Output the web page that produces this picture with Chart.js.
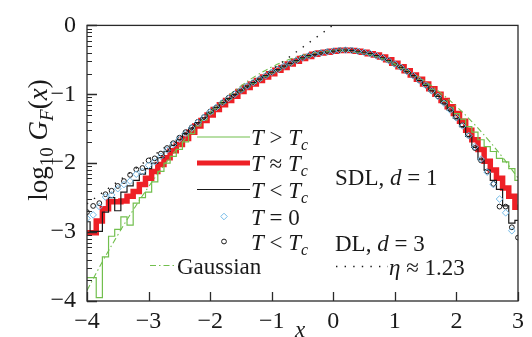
<!DOCTYPE html>
<html>
<head>
<meta charset="utf-8">
<script src="https://cdn.jsdelivr.net/npm/chart.js@4.4.1/dist/chart.umd.min.js"></script>
<style>
  html, body { margin: 0; padding: 0; background: #fff; }
  #wrap { width: 532px; height: 337px; }
</style>
</head>
<body>
<div id="wrap"><canvas id="c" width="532" height="337"></canvas></div>
<script>
// Bin centres along x
const binX = [-4.0,-3.9,-3.8,-3.7,-3.6,-3.5,-3.4,-3.3,-3.2,-3.1,
              -3.0,-2.9,-2.8,-2.7,-2.6,-2.5,-2.4,-2.3,-2.2,-2.1,
              -2.0,-1.9,-1.8,-1.7,-1.6,-1.5,-1.4,-1.3,-1.2,-1.1,
              -1.0,-0.9,-0.8,-0.7,-0.6,-0.5,-0.4,-0.3,-0.2,-0.1,
               0.0, 0.1, 0.2, 0.3, 0.4, 0.5, 0.6, 0.7, 0.8, 0.9,
               1.0, 1.1, 1.2, 1.3, 1.4, 1.5, 1.6, 1.7, 1.8, 1.9,
               2.0, 2.1, 2.2, 2.3, 2.4, 2.5, 2.6, 2.7, 2.8, 2.9,
               3.0];

// SDL, d = 1 : T > Tc
const sdlAbove = [-3.66,-3.66,-3.95,-3.36,-3.06,-2.96,-2.78,-2.90,-2.58,-2.50,
                  -2.42,-2.27,-2.12,-2.00,-1.90,-1.80,-1.69,-1.57,-1.46,-1.37,
                  -1.28,-1.20,-1.13,-1.07,-1.00,-0.95,-0.89,-0.84,-0.79,-0.74,
                  -0.69,-0.65,-0.60,-0.56,-0.52,-0.48,-0.45,-0.42,-0.40,-0.385,
                  -0.37,-0.36,-0.36,-0.365,-0.38,-0.395,-0.42,-0.45,-0.48,-0.52,
                  -0.57,-0.62,-0.67,-0.73,-0.79,-0.86,-0.93,-1.01,-1.10,-1.19,
                  -1.28,-1.36,-1.47,-1.55,-1.66,-1.76,-1.83,-1.93,-1.98,-2.08,
                  -2.25];
// SDL, d = 1 : T ~ Tc
const sdlNear = [-3.01,-3.01,-2.84,-2.66,-2.56,-2.56,-2.55,-2.48,-2.41,-2.31,
                 -2.22,-2.12,-2.02,-1.92,-1.82,-1.73,-1.64,-1.55,-1.46,-1.38,
                 -1.30,-1.22,-1.15,-1.09,-1.03,-0.96,-0.90,-0.85,-0.80,-0.75,
                 -0.70,-0.65,-0.61,-0.56,-0.52,-0.48,-0.45,-0.42,-0.40,-0.39,
                 -0.375,-0.365,-0.36,-0.365,-0.375,-0.39,-0.41,-0.43,-0.46,-0.50,
                 -0.55,-0.60,-0.66,-0.72,-0.78,-0.85,-0.92,-1.00,-1.09,-1.18,
                 -1.28,-1.39,-1.52,-1.66,-1.80,-1.97,-2.10,-2.22,-2.36,-2.48,
                 -2.64];
// SDL, d = 1 : T < Tc
const sdlBelow = [-2.85,-2.99,-2.99,-2.71,-2.50,-2.69,-2.42,-2.33,-2.25,-2.16,
                  -2.08,-2.00,-1.92,-1.83,-1.74,-1.66,-1.57,-1.49,-1.41,-1.34,
                  -1.26,-1.19,-1.12,-1.06,-1.00,-0.94,-0.88,-0.83,-0.78,-0.73,
                  -0.68,-0.64,-0.59,-0.55,-0.51,-0.47,-0.44,-0.42,-0.40,-0.385,
                  -0.372,-0.362,-0.358,-0.362,-0.375,-0.39,-0.41,-0.44,-0.47,-0.51,
                  -0.56,-0.61,-0.67,-0.73,-0.80,-0.87,-0.95,-1.03,-1.13,-1.23,
                  -1.35,-1.47,-1.61,-1.77,-1.95,-2.10,-2.25,-2.38,-2.62,-2.87,
                  -2.83];
// SDL, d = 1 : T = 0
const sdlZero = [-2.80,-2.75,-2.63,-2.49,-2.46,-2.37,-2.31,-2.26,-2.16,-2.12,
                 -2.03,-1.98,-1.90,-1.81,-1.73,-1.65,-1.57,-1.49,-1.41,-1.34,
                 -1.26,-1.19,-1.12,-1.06,-1.00,-0.94,-0.88,-0.83,-0.78,-0.73,
                 -0.68,-0.64,-0.59,-0.55,-0.51,-0.47,-0.44,-0.42,-0.40,-0.385,
                 -0.372,-0.362,-0.358,-0.362,-0.375,-0.39,-0.41,-0.44,-0.47,-0.51,
                 -0.56,-0.61,-0.67,-0.73,-0.80,-0.87,-0.95,-1.03,-1.13,-1.23,
                 -1.34,-1.46,-1.60,-1.76,-1.94,-2.13,-2.31,-2.52,-2.72,-2.98,
                 null];
// DL, d = 3 : T < Tc
const dlBelow = [-2.71,-2.62,-2.58,-2.45,-2.40,-2.33,-2.26,-2.17,-2.09,-2.07,
                 -1.96,-1.93,-1.86,-1.78,-1.71,-1.63,-1.55,-1.48,-1.40,-1.33,
                 -1.25,-1.19,-1.12,-1.05,-0.99,-0.94,-0.88,-0.83,-0.78,-0.73,
                 -0.68,-0.63,-0.59,-0.55,-0.51,-0.47,-0.44,-0.41,-0.395,-0.38,
                 -0.37,-0.36,-0.355,-0.36,-0.372,-0.39,-0.41,-0.44,-0.47,-0.51,
                 -0.56,-0.61,-0.67,-0.73,-0.80,-0.87,-0.95,-1.03,-1.12,-1.22,
                 -1.34,-1.45,-1.60,-1.78,-1.96,-2.12,-2.30,-2.63,-2.63,-2.93,
                 -3.08];

// Gaussian reference curve
const gaussX = [-4.0,-3.75,-3.5,-3.25,-3.0,-2.75,-2.5,-2.25,-2.0,-1.75,-1.5,-1.25,-1.0,-0.75,-0.5,-0.25,
                0.0,0.25,0.5,0.75,1.0,1.25,1.5,1.75,2.0,2.25,2.5,2.75,3.0];
const gaussY = [-3.847,-3.431,-3.042,-2.679,-2.342,-2.032,-1.749,-1.491,-1.261,-1.057,-0.879,-0.728,-0.604,-0.506,-0.434,-0.389,
                -0.371,-0.378,-0.413,-0.474,-0.561,-0.675,-0.816,-0.983,-1.176,-1.396,-1.643,-1.915,-2.215];

// Power-law line, eta ~ 1.23
const powerX = [-4.0, 0.1];
const powerY = [-2.59, 0.07];

// Axis ticks
const xTicks = [-4, -3, -2, -1, 0, 1, 2, 3];
const yTicks = [0, -1, -2, -3, -4];
const minorSteps = [2, 3, 4, 5, 6, 7, 8, 9];

const SERIF = '"Liberation Serif", "DejaVu Serif", serif';
const FS = 23;
const GREEN = '#72bf4e';
const RED = '#ee2026';
const BLUE = '#74bbe8';
const INK = '#1a1a1a';

const pairs = (xs, ys) => xs.map((x, i) => ({ x: x, y: ys[i] }));
const fmt = v => (v < 0 ? '\u2212' + Math.abs(v) : String(v));

// Draw a run of text pieces: r = roman, i = italic, R / I = subscript
function rich(ctx, x, base, parts, size, measureOnly) {
  let cx = x;
  for (const [t, k] of parts) {
    const sub = (k === 'R' || k === 'I');
    const ital = (k === 'i' || k === 'I');
    const s = sub ? Math.round(size * 0.7) : size;
    ctx.font = (ital ? 'italic ' : '') + s + 'px ' + SERIF;
    if (!measureOnly) ctx.fillText(t, cx, base + (sub ? size * 0.22 : 0));
    cx += ctx.measureText(t).width;
  }
  return cx - x;
}

const decor = {
  id: 'decor',
  afterDatasetsDraw(chart) {
    const { ctx, chartArea: a, scales: { x, y } } = chart;
    ctx.save();
    ctx.strokeStyle = '#2a2a2a';
    ctx.lineWidth = 1.3;
    ctx.strokeRect(a.left, a.top, a.right - a.left, a.bottom - a.top);
    ctx.beginPath();
    xTicks.forEach(v => {
      const px = Math.round(x.getPixelForValue(v)) + 0.5;
      ctx.moveTo(px, a.bottom); ctx.lineTo(px, a.bottom - 9);
    });
    yTicks.forEach(v => {
      const py = Math.round(y.getPixelForValue(v)) + 0.5;
      ctx.moveTo(a.left, py); ctx.lineTo(a.left + 10, py);
    });
    ctx.stroke();
    ctx.lineWidth = 1;
    ctx.beginPath();
    [-1, -2, -3, -4].forEach(d => {
      minorSteps.forEach(k => {
        const py = Math.round(y.getPixelForValue(d + Math.log10(k))) + 0.5;
        ctx.moveTo(a.left, py); ctx.lineTo(a.left + 5, py);
      });
    });
    ctx.stroke();
    ctx.restore();
  },
  afterDraw(chart) {
    const { ctx } = chart;
    const h = Chart.helpers;
    ctx.save();
    ctx.fillStyle = INK;
    ctx.textBaseline = 'alphabetic';

    // axis titles
    rich(ctx, 295, 337, [['x', 'i']], FS);
    ctx.save();
    ctx.translate(39, 140);
    ctx.rotate(-Math.PI / 2);
    const yt = [['log', 'r'], ['10', 'R'], [' ', 'r'], ['G', 'i'], ['F', 'I'], ['(', 'r'], ['x', 'i'], [')', 'r']];
    const w = rich(ctx, 0, 0, yt, 27, true);
    rich(ctx, -w / 2, 8, yt, 27);
    ctx.restore();

    // legend samples
    const seg = (x1, x2, yy, color, width, dash) => {
      ctx.save();
      ctx.strokeStyle = color; ctx.lineWidth = width; ctx.setLineDash(dash || []);
      ctx.beginPath(); ctx.moveTo(x1, yy); ctx.lineTo(x2, yy); ctx.stroke();
      ctx.restore();
    };
    seg(197, 250, 137, GREEN, 1.2);
    seg(197, 250, 163, RED, 5);
    seg(197, 250, 189.5, INK, 1.2);
    ctx.save();
    ctx.fillStyle = 'rgba(0,0,0,0)';
    ctx.strokeStyle = BLUE; ctx.lineWidth = 1;
    h.drawPoint(ctx, { pointStyle: 'rectRot', radius: 3.3, borderWidth: 1 }, 224, 216.5);
    ctx.strokeStyle = INK;
    h.drawPoint(ctx, { pointStyle: 'circle', radius: 2.4, borderWidth: 1 }, 224, 241.5);
    ctx.restore();
    seg(150, 174, 265.5, GREEN, 1.1, [6, 3, 1.5, 3]);
    seg(336, 388, 266.5, INK, 1.4, [1.4, 7.2]);

    ctx.fillStyle = INK;
    const b = 8;
    rich(ctx, 251, 137 + b, [['T', 'i'], [' > ', 'r'], ['T', 'i'], ['c', 'I']], FS);
    rich(ctx, 251, 163 + b, [['T', 'i'], [' \u2248 ', 'r'], ['T', 'i'], ['c', 'I']], FS);
    rich(ctx, 251, 189.5 + b, [['T', 'i'], [' < ', 'r'], ['T', 'i'], ['c', 'I']], FS);
    rich(ctx, 251, 216.5 + b, [['T', 'i'], [' = 0', 'r']], FS);
    rich(ctx, 251, 241.5 + b, [['T', 'i'], [' < ', 'r'], ['T', 'i'], ['c', 'I']], FS);
    rich(ctx, 177, 265.5 + b, [['Gaussian', 'r']], FS);
    rich(ctx, 335, 176.5 + b, [['SDL, ', 'r'], ['d', 'i'], [' = 1', 'r']], FS);
    rich(ctx, 335, 243 + b, [['DL, ', 'r'], ['d', 'i'], [' = 3', 'r']], FS);
    rich(ctx, 389, 266.5 + b, [['\u03b7', 'i'], [' \u2248 1.23', 'r']], FS);
    ctx.restore();
  }
};

const tickFont = { family: SERIF, size: 24 };

new Chart(document.getElementById('c'), {
  type: 'line',
  data: {
    datasets: [
      { label: 'T = 0', data: pairs(binX, sdlZero), showLine: false, pointStyle: 'rectRot',
        pointRadius: 3.3, pointBorderWidth: 1, pointBorderColor: BLUE, pointBackgroundColor: 'rgba(0,0,0,0)', order: 1 },
      { label: 'T < Tc DL', data: pairs(binX, dlBelow), showLine: false, pointStyle: 'circle',
        pointRadius: 2.4, pointBorderWidth: 1, pointBorderColor: INK, pointBackgroundColor: 'rgba(0,0,0,0)', order: 2 },
      { label: 'eta', data: pairs(powerX, powerY), borderColor: INK, borderWidth: 1.4,
        borderDash: [1.4, 7.2], pointRadius: 0, order: 3, clip: 0 },
      { label: 'Gaussian', data: pairs(gaussX, gaussY), borderColor: GREEN, borderWidth: 1.1,
        borderDash: [6, 3, 1.5, 3], pointRadius: 0, tension: 0.4, order: 4, clip: 0 },
      { label: 'T < Tc', data: pairs(binX, sdlBelow), borderColor: INK, borderWidth: 1.2,
        stepped: 'middle', pointRadius: 0, order: 5, clip: 0 },
      { label: 'T > Tc', data: pairs(binX, sdlAbove), borderColor: GREEN, borderWidth: 1.2,
        stepped: 'middle', pointRadius: 0, order: 6, clip: 0 },
      { label: 'T ~ Tc', data: pairs(binX, sdlNear), borderColor: RED, borderWidth: 5.5,
        stepped: 'middle', pointRadius: 0, order: 7, clip: 0 }
    ]
  },
  options: {
    responsive: false,
    animation: false,
    events: [],
    layout: { padding: { top: 14, right: 14, left: 0, bottom: 0 } },
    plugins: { legend: { display: false }, tooltip: { enabled: false } },
    scales: {
      x: {
        type: 'linear', min: -4, max: 3,
        afterBuildTicks: s => { s.ticks = xTicks.map(v => ({ value: v })); },
        afterFit: s => { s.height = 36; },
        grid: { display: false, drawTicks: false },
        border: { display: false },
        ticks: { font: tickFont, color: INK, padding: 6, maxRotation: 0, autoSkip: false, callback: fmt }
      },
      y: {
        type: 'linear', min: -4, max: 0,
        afterBuildTicks: s => { s.ticks = yTicks.map(v => ({ value: v })); },
        afterFit: s => { s.width = 87; },
        grid: { display: false, drawTicks: false },
        border: { display: false },
        ticks: { font: tickFont, color: INK, padding: 11, autoSkip: false, callback: fmt }
      }
    }
  },
  plugins: [decor]
});
</script>
</body>
</html>
